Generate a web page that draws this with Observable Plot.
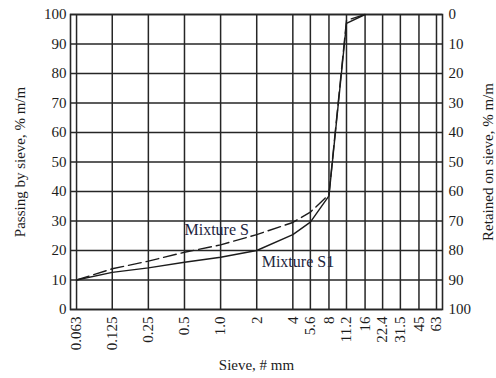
<!DOCTYPE html>
<html><head><meta charset="utf-8">
<script src="https://cdn.jsdelivr.net/npm/d3@7"></script>
<script src="https://cdn.jsdelivr.net/npm/@observablehq/plot@0.6"></script>
<style>body{margin:0;background:#fff}</style>
</head><body><div id="chart"></div>
<script>
const sieves = [0.063, 0.125, 0.25, 0.5, 1.0, 2, 4, 5.6, 8, 11.2, 16, 22.4, 31.5, 45, 63];
const sieveLabels = ["0.063", "0.125", "0.25", "0.5", "1.0", "2", "4", "5.6", "8", "11.2", "16", "22.4", "31.5", "45", "63"];
const yTicks = [0, 10, 20, 30, 40, 50, 60, 70, 80, 90, 100];
const mixtureS1 = [10, 12.6, 14.1, 16, 17.7, 20, 25.4, 29.6, 38.5, 97, 100];
const mixtureS = [10, 13.8, 16.4, 19.4, 21.9, 25.4, 29.5, 33, 39, 98, 100];
const curveNames = ["Mixture S", "Mixture S1"];
const curveLabelSieve = [0.5, 2.2];
const curveLabelValue = [27, 16];

const table = mixtureS1.map((v, i) => ({sieve: sieves[i], s1: v, s: mixtureS[i]}));
const notes = curveNames.map((n, i) => ({name: n, sieve: curveLabelSieve[i], value: curveLabelValue[i]}));
const xTicks = sieves.map((s, i) => ({sieve: s, label: sieveLabels[i]}));
const ink = "#1c1c1c";
const grid = "#262626";

const chart = Plot.plot({
  width: 496,
  height: 378,
  marginLeft: 70,
  marginRight: 54,
  marginTop: 14,
  marginBottom: 69,
  style: {fontFamily: "'Liberation Serif', 'DejaVu Serif', serif", fontSize: "15px", color: ink, background: "#fff"},
  x: {type: "log", domain: [0.0561, 70.7], axis: null},
  y: {domain: [0, 100]},
  marks: [
    Plot.ruleX(sieves, {stroke: grid, strokeWidth: 1.5, strokeOpacity: 1}),
    Plot.ruleY(yTicks, {stroke: grid, strokeWidth: 1.5, strokeOpacity: 1}),
    Plot.frame({stroke: grid, strokeWidth: 1.6}),
    Plot.line(table, {x: "sieve", y: "s1", stroke: ink, strokeWidth: 1.4}),
    Plot.line(table, {x: "sieve", y: "s", stroke: ink, strokeWidth: 1.4, strokeDasharray: "13,5"}),
    Plot.text(notes, {x: "sieve", y: "value", text: "name", textAnchor: "start", fontSize: 16, fill: "#1e2540"}),
    Plot.text(xTicks, {x: "sieve", y: () => 0, text: "label", rotate: -90, textAnchor: "end", dy: 7, fontSize: 15, fill: ink}),
    Plot.text(["Sieve, # mm"], {frameAnchor: "bottom", dy: 60, fontSize: 15, fill: ink}),
    Plot.axisY(yTicks, {anchor: "left", tickSize: 0, tickPadding: 4, labelArrow: "none",
      label: "Passing by sieve, % m/m", labelAnchor: "center", labelOffset: 56}),
    Plot.axisY(yTicks, {anchor: "right", tickSize: 0, tickPadding: 6, tickFormat: d => 100 - d, labelArrow: "none",
      label: "Retained on sieve, % m/m", labelAnchor: "center", labelOffset: 50})
  ]
});
document.getElementById("chart").appendChild(chart);
</script>
</body></html>
